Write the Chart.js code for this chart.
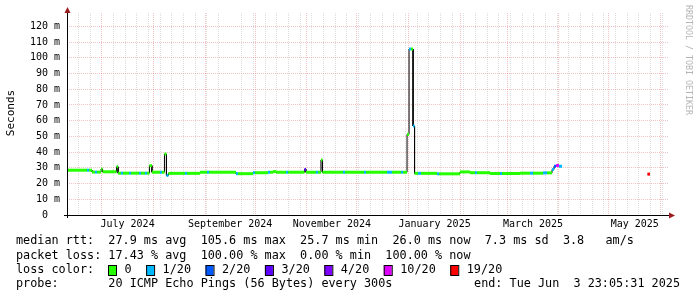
<!DOCTYPE html>
<html>
<head>
<meta charset="utf-8">
<script src="https://cdn.jsdelivr.net/npm/chart.js@4.4.1/dist/chart.umd.min.js"></script>
<style>
  html, body { margin: 0; padding: 0; background: #fff; }
  #wrap { width: 697px; height: 297px; }
</style>
</head>
<body>
<div id="wrap"><canvas id="pingChart" width="697" height="297"></canvas></div>
<script>
// Smokeping style graph: median rtt over the last 360 days
const DAY = 86400000;
const origin = Date.UTC(2024, 5, 10, 5, 0);   // x = 0 (days)
const xMaxDay = 360.2;
const yMaxMs = 128.5;

// month grid + labels
const monthStarts = ['2024-07-01', '2024-08-01', '2024-09-01', '2024-10-01', '2024-11-01', '2024-12-01',
    '2025-01-01', '2025-02-01', '2025-03-01', '2025-04-01', '2025-05-01', '2025-06-01', '2025-07-01'];
const xLabelMonths = ['2024-07-01', '2024-09-01', '2024-11-01', '2025-01-01', '2025-03-01', '2025-05-01'];
const xLabels = ['July 2024', 'September 2024', 'November 2024', 'January 2025', 'March 2025', 'May 2025'];
const firstMonday = '2024-06-17';

// y ticks (ms)
const yMajor = [0, 10, 20, 30, 40, 50, 60, 70, 80, 90, 100, 110, 120];
const yMinor = [5, 15, 25, 35, 45, 55, 65, 75, 85, 95, 105, 115, 125];

// median rtt steps: start day, value in ms (null = no data), lost pings out of 20
const rttDay = [0, 12, 13.2, 15, 16.8, 18, 20.4, 21.3, 29.7, 30.6, 32.4, 33.6, 37.2, 38.4, 43.2, 44.4,
    46.7, 47.9, 49.4, 50.9, 55.7, 56.9, 58.4, 59.6, 60.8, 70.7, 71.9, 79.7, 83.9, 85.1, 101.3, 102.5,
    111.5, 112.7, 120.5, 121.7, 123.5, 125.3, 131.3, 132.5, 142.3, 143.2, 149.2, 150.4, 152.2, 153.1,
    165.4, 166.6, 178.0, 179.2, 191.8, 194.8, 200.2, 201.4, 203.8, 205.0, 206.2, 207.4, 208.3, 210.4,
    212.2, 221.8, 223.0, 235.5, 241.5, 244.5, 245.7, 253.5, 259.5, 260.7, 271.5, 277.5, 279.3, 285.3,
    287.7, 290.7, 291.9, 293.1, 294.9, 296.7, 347.9, 349.4];
const rttMs = [28.5, 28.5, 28.5, 27.3, 27.3, 27.3, 29.3, 27.5, 30.7, 26.6, 26.6, 26.6, 26.6, 26.6, 26.6, 26.6,
    26.6, 26.6, 31.4, 27.2, 27.2, 27.2, 38.8, 25.2, 26.5, 26.5, 26.5, 27.2, 27.2, 27.2, 26.3, 26.3,
    26.9, 26.9, 27.2, 27.2, 27.6, 27.2, 27.2, 27.2, 29.0, 27.2, 27.2, 27.2, 35.0, 27.2,
    27.2, 27.2, 27.2, 27.2, 27.2, 27.2, 27.2, 27.2, 51.3, 105.6, 105.6, 56.6, 26.5, 26.5,
    26.5, 26.2, 26.2, 27.4, 26.9, 26.9, 26.9, 26.4, 26.4, 26.4, 26.6, 26.6, 26.6, 26.8,
    26.8, 29.0, 31.0, 31.5, 31.0, null, 26.0, null];
const rttLoss = [0, 1, 0, 0, 1, 0, 0, 0, 0, 0, 1, 0, 1, 0, 1, 0,
    1, 0, 0, 0, 1, 0, 0, 1, 0, 1, 0, 0, 1, 0, 1, 0,
    1, 0, 1, 0, 0, 0, 1, 0, 3, 0, 1, 0, 0, 0,
    1, 0, 1, 0, 1, 0, 1, 0, 0, 1, 0, 1, 0, 1,
    0, 1, 0, 0, 0, 1, 0, 0, 1, 0, 0, 1, 0, 1,
    0, 1, 2, 10, 1, 0, 19, 0];

// loss colour legend
const lossSteps = [0, 1, 2, 3, 4, 10, 19];
const lossLabels = ['0', '1/20', '2/20', '3/20', '4/20', '10/20', '19/20'];
const lossColors = ['#26ff00', '#00b8ff', '#0059ff', '#5e00ff', '#7e00ff', '#dd00ff', '#ff0000'];

const statsRtt = 'median rtt:  27.9 ms avg  105.6 ms max  25.7 ms min  26.0 ms now  7.3 ms sd  3.8   am/s';
const statsLoss = 'packet loss: 17.43 % avg  100.00 % max  0.00 % min  100.00 % now';
const probeText = 'probe:       20 ICMP Echo Pings (56 Bytes) every 300s';
const endText = 'end: Tue Jun  3 23:05:31 2025';

function dayOf(str) {
    return (Date.parse(str + 'T00:00:00Z') - origin) / DAY;
}

function lossColor(loss) {
    let c = lossColors[0];
    lossSteps.forEach((s, i) => { if (loss >= s) c = lossColors[i]; });
    return c;
}

// x grid ticks: month starts (red), mondays (grey), label spots (no line)
const xKind = new Map();
const xLabelAt = new Map();
for (let t = Date.parse(firstMonday + 'T00:00:00Z'); (t - origin) / DAY < xMaxDay; t += 7 * DAY) {
    xKind.set((t - origin) / DAY, 'minor');
}
monthStarts.forEach(m => {
    const d = dayOf(m);
    if (d <= xMaxDay) xKind.set(d, 'major');
});
xLabelMonths.forEach((m, i) => {
    const k = monthStarts.indexOf(m);
    const mid = (dayOf(monthStarts[k]) + dayOf(monthStarts[k + 1])) / 2;
    xKind.set(mid, 'label');
    xLabelAt.set(mid, xLabels[i]);
});

// step points: horizontal run for each value, vertical jumps between them
const stepPoints = [];
const stepLoss = [];
for (let i = 0; i < rttDay.length - 1; i++) {
    if (rttMs[i] === null) continue;
    stepPoints.push({ x: rttDay[i], y: rttMs[i] });
    stepLoss.push(rttLoss[i]);
    stepPoints.push({ x: rttDay[i + 1], y: rttMs[i] });
    stepLoss.push(rttLoss[i]);
    if (rttMs[i + 1] === null) {
        stepPoints.push({ x: rttDay[i + 1], y: null });
        stepLoss.push(0);
    }
}

const GRID_RED = 'rgba(226, 110, 110, 0.42)';
const GRID_GREY = 'rgba(175, 175, 175, 0.42)';
const MONO = '"DejaVu Sans Mono", monospace';

const rrdDecor = {
    id: 'rrdDecor',
    afterDraw(chart) {
        const ctx = chart.ctx;
        const a = chart.chartArea;
        ctx.save();

        // axes
        ctx.strokeStyle = '#000';
        ctx.lineWidth = 1;
        ctx.beginPath();
        ctx.moveTo(a.left + 0.5, a.top - 1);
        ctx.lineTo(a.left + 0.5, a.bottom + 3);
        ctx.moveTo(a.left - 3, a.bottom + 0.5);
        ctx.lineTo(a.right + 2, a.bottom + 0.5);
        ctx.stroke();

        // arrow heads
        ctx.fillStyle = '#9a1c1c';
        ctx.beginPath();
        ctx.moveTo(a.left + 0.5, a.top - 6);
        ctx.lineTo(a.left + 3.5, a.top);
        ctx.lineTo(a.left - 2.5, a.top);
        ctx.closePath();
        ctx.fill();
        ctx.beginPath();
        ctx.moveTo(a.right + 7, a.bottom + 0.5);
        ctx.lineTo(a.right + 1, a.bottom + 3.5);
        ctx.lineTo(a.right + 1, a.bottom - 2.5);
        ctx.closePath();
        ctx.fill();

        // y title
        ctx.fillStyle = '#000';
        ctx.font = '11px ' + MONO;
        ctx.textAlign = 'center';
        ctx.textBaseline = 'middle';
        ctx.save();
        ctx.translate(11, 113);
        ctx.rotate(-Math.PI / 2);
        ctx.fillText('Seconds', 0, 0);
        ctx.restore();

        // watermark
        ctx.save();
        ctx.fillStyle = '#b4b4b4';
        ctx.font = '8.3px ' + MONO;
        ctx.textAlign = 'left';
        ctx.translate(688, 5);
        ctx.rotate(Math.PI / 2);
        ctx.fillText('RRDTOOL / TOBI OETIKER', 0, 0);
        ctx.restore();

        // legend lines
        ctx.font = '11.8px ' + MONO;
        ctx.textAlign = 'left';
        ctx.fillStyle = '#000';
        ctx.fillText(statsRtt, 16, 241);
        ctx.fillText(statsLoss, 16, 256);
        ctx.fillText('loss color:', 16, 270);
        let x = 108;
        lossLabels.forEach((lbl, i) => {
            ctx.fillStyle = lossColors[i];
            ctx.fillRect(x, 265, 8, 10);
            ctx.strokeStyle = '#000';
            ctx.strokeRect(x + 0.5, 265.5, 8, 10);
            ctx.fillStyle = '#000';
            ctx.fillText(lbl, x + 16.5, 270);
            x += 16.5 + ctx.measureText(lbl).width + 14.5;
        });
        ctx.fillText(probeText, 16, 284);
        ctx.textAlign = 'right';
        ctx.fillText(endText, 680, 284);

        ctx.restore();
    }
};

const chart = new Chart(document.getElementById('pingChart'), {
    type: 'line',
    data: {
        datasets: [{
            label: 'median rtt',
            data: stepPoints,
            borderColor: '#000000',
            borderWidth: 1,
            pointRadius: 0,
            spanGaps: false,
            order: 2
        }, {
            label: 'loss',
            data: stepPoints,
            borderWidth: 3,
            borderCapStyle: 'butt',
            pointRadius: 0,
            spanGaps: false,
            order: 1,
            segment: {
                borderColor: c => c.p0.parsed.x === c.p1.parsed.x
                    ? 'rgba(0,0,0,0)'
                    : lossColor(stepLoss[c.p0DataIndex])
            }
        }]
    },
    options: {
        responsive: false,
        animation: false,
        devicePixelRatio: 1,
        layout: { padding: { top: 13, right: 29, left: 0, bottom: 0 } },
        plugins: {
            legend: { display: false },
            tooltip: { enabled: false }
        },
        scales: {
            x: {
                type: 'linear',
                min: 0,
                max: xMaxDay,
                afterFit: s => { s.height = 82; },
                afterBuildTicks: s => {
                    s.ticks = [...xKind.keys()].sort((p, q) => p - q).map(v => ({ value: v }));
                },
                grid: {
                    drawTicks: false,
                    lineWidth: 1,
                    color: c => {
                        const k = c.tick ? xKind.get(c.tick.value) : null;
                        if (k === 'major') return GRID_RED;
                        if (k === 'minor') return GRID_GREY;
                        return 'rgba(0,0,0,0)';
                    }
                },
                border: { display: false, dash: [1, 1] },
                ticks: {
                    autoSkip: false,
                    maxRotation: 0,
                    padding: 3,
                    color: '#000',
                    font: { family: MONO, size: 10 },
                    callback: v => xLabelAt.get(v) || ''
                }
            },
            y: {
                type: 'linear',
                min: 0,
                max: yMaxMs,
                afterFit: s => { s.width = 67; },
                afterBuildTicks: s => {
                    s.ticks = [...yMajor, ...yMinor].sort((p, q) => p - q).map(v => ({ value: v }));
                },
                grid: {
                    drawTicks: false,
                    color: c => {
                        if (!c.tick || c.tick.value === 0) return 'rgba(0,0,0,0)';
                        return yMajor.includes(c.tick.value) ? GRID_RED : GRID_GREY;
                    }
                },
                border: { display: false, dash: [1, 1] },
                ticks: {
                    padding: 7,
                    color: '#000',
                    font: { family: MONO, size: 10 },
                    callback: v => {
                        if (!yMajor.includes(v)) return '';
                        return v === 0 ? '0  ' : v + ' m';
                    }
                }
            }
        }
    },
    plugins: [rrdDecor]
});
</script>
</body>
</html>
